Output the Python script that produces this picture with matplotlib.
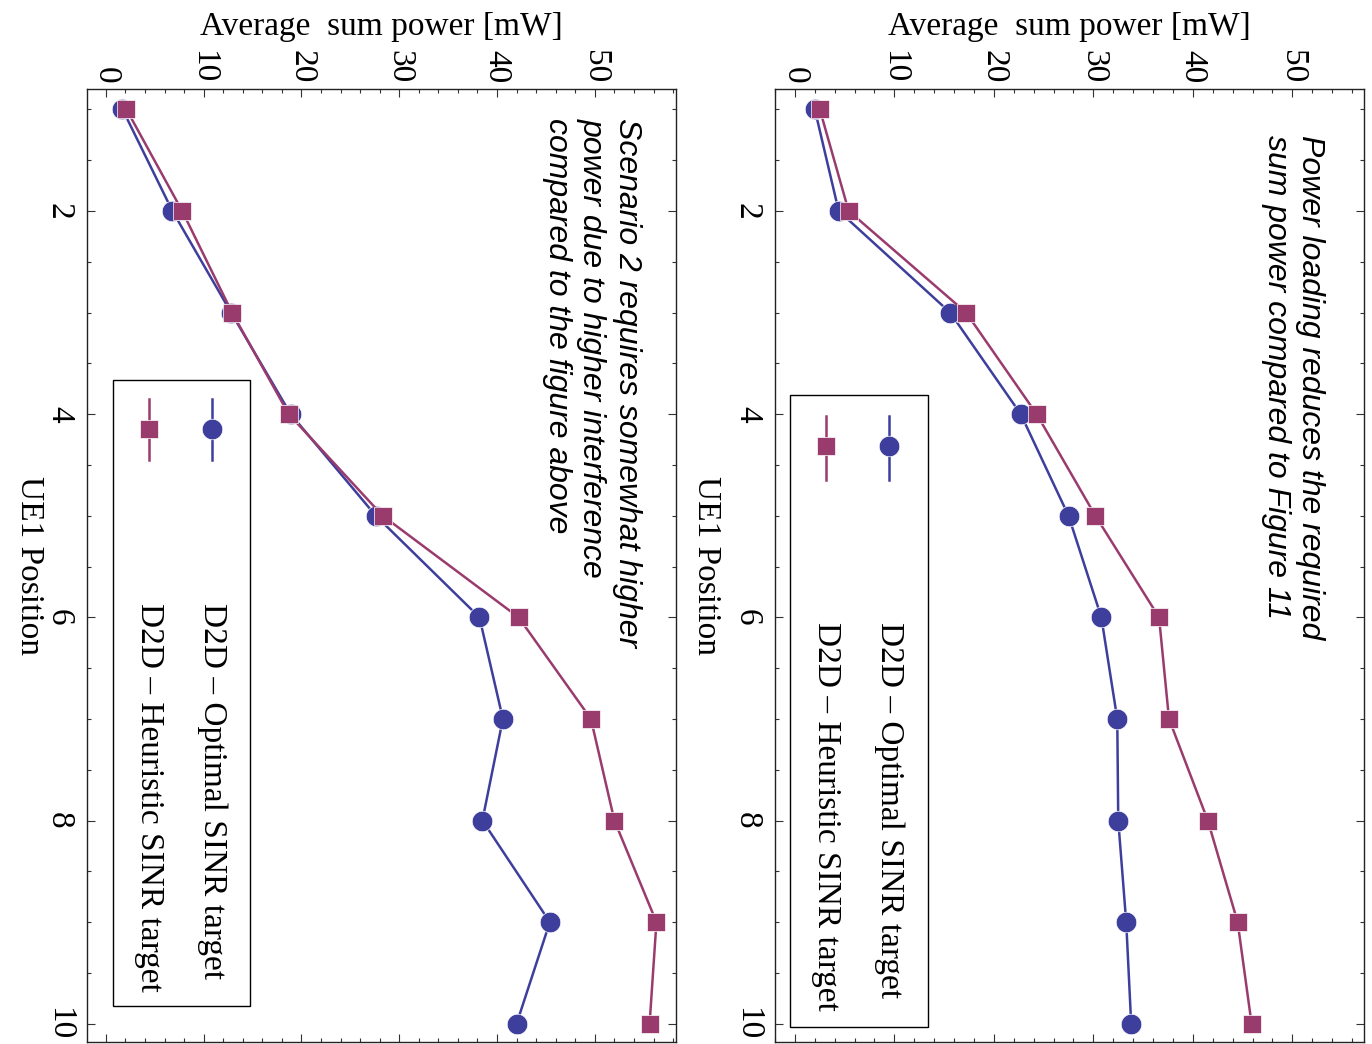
import matplotlib
matplotlib.use('Agg')
import matplotlib.pyplot as plt
from matplotlib.ticker import MultipleLocator, FixedLocator
from matplotlib.patches import Rectangle
from matplotlib.lines import Line2D

# ---------------- data ----------------
positions = [1, 2, 3, 4, 5, 6, 7, 8, 9, 10]
fig1_optimal = [2.0, 4.4, 15.6, 22.7, 27.5, 30.8, 32.4, 32.5, 33.3, 33.8]
fig1_heuristic = [2.5, 5.4, 17.2, 24.3, 30.2, 36.6, 37.6, 41.5, 44.5, 45.9]
fig2_optimal = [1.7, 6.8, 12.8, 18.9, 27.6, 38.2, 40.6, 38.5, 45.4, 42.0]
fig2_heuristic = [2.1, 7.8, 12.9, 18.7, 28.3, 42.2, 49.6, 52.0, 56.3, 55.6]
power_ticks = [0, 10, 20, 30, 40, 50]
position_ticks = [2, 4, 6, 8, 10]
series_labels = ["D2D \u2013 Optimal SINR target", "D2D \u2013 Heuristic SINR target"]
notes = ["Power loading reduces the required\nsum power compared to Figure 11",
         "Scenario 2 requires somewhat higher\npower due to higher interference\ncompared to the figure above"]
position_label = "UE1 Position"
power_label = "Average  sum power [mW]"

BLUE = '#3e3e9c'
RED = '#9a3b6e'
SERIF = ['Liberation Serif', 'DejaVu Serif']
SANS = ['Liberation Sans', 'DejaVu Sans']

W, H = 1372, 1044
fig = plt.figure(figsize=(W / 100, H / 100), dpi=100)
fig.patch.set_facecolor('white')


def fx(px):
    return px / W


def fy(py):
    return 1 - py / H


AX_TOP, AX_BOT, AX_W = 89, 1042, 589
LW = 1.8
MS_C, MS_S = 14.8, 13.2

panels = [
    dict(left=775, xlim=(-2.0, 57.2), opt=fig1_optimal, heu=fig1_heuristic,
         box=(790, 395, 928, 1027), ex=(889, 826), ey=(416, 480, 446), ty=622,
         note=notes[0], note_xy=(1293, 135), ylab_x=706),
    dict(left=87, xlim=(-1.93, 58.3), opt=fig2_optimal, heu=fig2_heuristic,
         box=(113, 380, 250, 1006), ex=(212, 149), ey=(399, 460, 429), ty=603,
         note=notes[1], note_xy=(592, 118), ylab_x=29),
]

for p in panels:
    ax = fig.add_axes([fx(p['left']), fy(AX_BOT), AX_W / W, (AX_BOT - AX_TOP) / H])
    ax.plot(p['opt'], positions, color=BLUE, lw=LW, marker='o', ms=MS_C,
            mec='white', mew=0.5, mfc=BLUE, zorder=3)
    ax.plot(p['heu'], positions, color=RED, lw=LW, marker='s', ms=MS_S,
            mec='white', mew=0.5, mfc=RED, zorder=4)
    ax.set_xlim(*p['xlim'])
    ax.set_ylim(10.18, 0.80)

    ax.xaxis.set_major_locator(FixedLocator(power_ticks))
    ax.xaxis.set_minor_locator(MultipleLocator(2))
    ax.yaxis.set_major_locator(FixedLocator(position_ticks))
    ax.yaxis.set_minor_locator(MultipleLocator(0.5))
    ax.set_xticklabels([str(t) for t in power_ticks])
    ax.set_yticklabels([str(t) for t in position_ticks])

    ax.tick_params(which='both', direction='in', top=True, bottom=True,
                   left=True, right=True, labeltop=True, labelbottom=False,
                   labelleft=True, labelright=False, width=0.8, color='#333333')
    ax.tick_params(which='major', length=6)
    ax.tick_params(which='minor', length=3)
    ax.tick_params(axis='x', which='major', pad=4, labelrotation=-90)
    ax.tick_params(axis='y', which='major', pad=9, labelrotation=-90)
    for t in ax.get_xticklabels() + ax.get_yticklabels():
        t.set_fontfamily(SERIF)
        t.set_fontsize(24)
    for t in ax.get_yticklabels():
        t.set_verticalalignment('center')
    for s in ax.spines.values():
        s.set_linewidth(1.0)
        s.set_color('#222222')

    # axis labels
    cx = p['left'] + AX_W / 2
    fig.text(fx(cx), fy(27), power_label, ha='center', va='center',
             fontsize=24, family=SERIF)
    fig.text(fx(p['ylab_x']), fy((AX_TOP + AX_BOT) / 2), position_label,
             ha='center', va='center', rotation=-90, fontsize=24, family=SERIF)

    # annotation
    nx, ny = p['note_xy']
    fig.text(fx(nx), fy(ny), p['note'], ha='center', va='top', rotation=-90,
             multialignment='left', fontsize=23, family=SANS, style='italic',
             linespacing=1.2)

    # legend (drawn manually because the whole chart is rotated)
    x0, y0, x1, y1 = p['box']
    fig.add_artist(Rectangle((fx(x0), fy(y1)), (x1 - x0) / W, (y1 - y0) / H,
                             transform=fig.transFigure, facecolor='white',
                             edgecolor='black', lw=1.0, zorder=5))
    ly0, ly1, lm = p['ey']
    for xpx, col, mk, ms, lab in [(p['ex'][0], BLUE, 'o', MS_C, series_labels[0]),
                                   (p['ex'][1], RED, 's', MS_S, series_labels[1])]:
        fig.add_artist(Line2D([fx(xpx), fx(xpx)], [fy(ly0), fy(ly1)],
                              transform=fig.transFigure, color=col, lw=LW, zorder=6))
        fig.add_artist(Line2D([fx(xpx)], [fy(lm)], transform=fig.transFigure,
                              color=col, marker=mk, ms=ms, mec='white', mew=0.5,
                              ls='none', zorder=7))
        fig.text(fx(xpx), fy(p['ty']), lab, ha='center', va='top', rotation=-90,
                 fontsize=24, family=SERIF, zorder=8)

fig.savefig('out.png', dpi=100, facecolor='white')
